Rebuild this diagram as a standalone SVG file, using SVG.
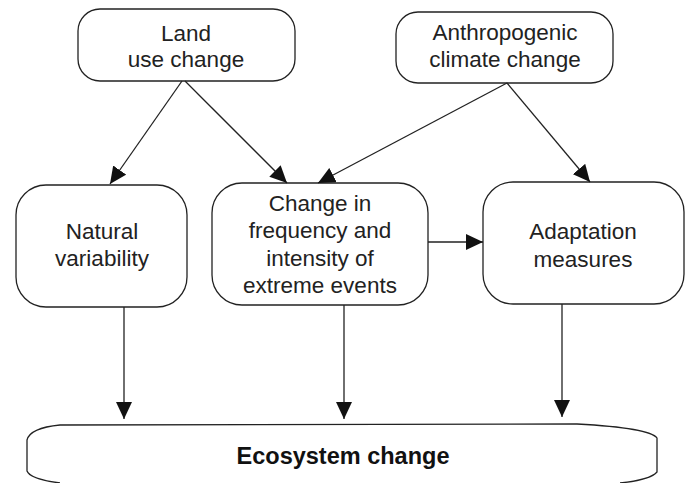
<svg xmlns="http://www.w3.org/2000/svg" width="688" height="483" viewBox="0 0 688 483">
<style>
.box{fill:#fff;stroke:#222;stroke-width:1.3}
.t{font-family:"Liberation Sans",Arial,sans-serif;font-size:22.5px;fill:#222;text-anchor:middle}
.b{font-weight:bold;fill:#111;font-size:23.5px}
.c{stroke:#222;stroke-width:1.3;fill:none;marker-end:url(#ah)}
</style>
<defs>
<marker id="ah" viewBox="0 0 17 16" refX="17" refY="8" markerWidth="17" markerHeight="16" markerUnits="userSpaceOnUse" orient="auto">
<path d="M0,0 L17,8 L0,16 Z" fill="#111"/>
</marker>
</defs>
<rect width="688" height="483" fill="#fff"/>
<g id="land">
<rect class="box" x="78" y="9" width="217" height="72" rx="22" ry="22"/>
<text class="t" x="186" y="41">Land</text>
<text class="t" x="186" y="67">use change</text>
</g>
<g id="anthro">
<rect class="box" x="396" y="12" width="217" height="71" rx="22" ry="22"/>
<text class="t" x="505" y="40">Anthropogenic</text>
<text class="t" x="505" y="67">climate change</text>
</g>
<g id="natural">
<rect class="box" x="16" y="185" width="171" height="122" rx="30" ry="30"/>
<text class="t" x="102" y="239">Natural</text>
<text class="t" x="102" y="266">variability</text>
</g>
<g id="extreme">
<rect class="box" x="212" y="183" width="216" height="122" rx="30" ry="30"/>
<text class="t" x="320" y="211">Change in</text>
<text class="t" x="320" y="238">frequency and</text>
<text class="t" x="320" y="266">intensity of</text>
<text class="t" x="320" y="293">extreme events</text>
</g>
<g id="adapt">
<rect class="box" x="483" y="182" width="201" height="122" rx="30" ry="30"/>
<text class="t" x="583" y="239">Adaptation</text>
<text class="t" x="583" y="267">measures</text>
</g>
<g id="eco">
<path class="box" d="M60,483 Q30,479 27,471 L27,440 Q30,428 60,425 L577,424 Q650,428 657,438 L657,472 Q650,480 620,483"/>
<text class="t b" x="343" y="464">Ecosystem change</text>
</g>
<g id="connectors">
<line class="c" x1="182" y1="81" x2="110" y2="184"/>
<line class="c" x1="185" y1="81" x2="287" y2="183"/>
<line class="c" x1="507" y1="83" x2="318" y2="183"/>
<line class="c" x1="507" y1="83" x2="590" y2="182"/>
<line class="c" x1="428" y1="242" x2="483" y2="242"/>
<line class="c" x1="124" y1="307" x2="124" y2="419"/>
<line class="c" x1="344" y1="305" x2="344" y2="419"/>
<line class="c" x1="562" y1="304" x2="562" y2="417"/>
</g>
</svg>
